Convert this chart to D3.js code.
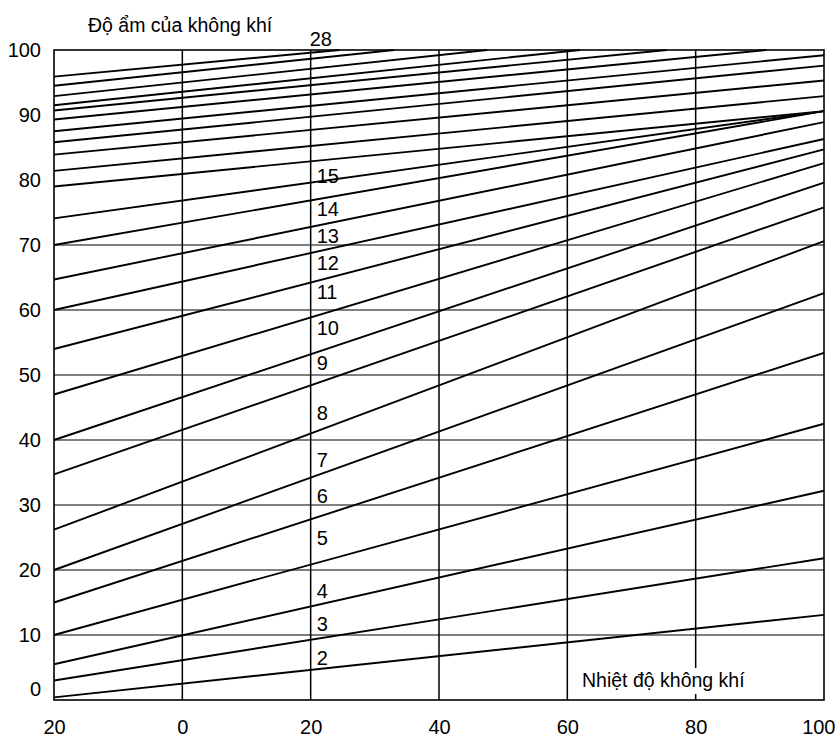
<!DOCTYPE html>
<html>
<head>
<meta charset="utf-8">
<script src="https://cdn.jsdelivr.net/npm/d3@7"></script>
<style>
  body { margin: 0; background: #fff; }
  text { font-family: 'Liberation Sans', Arial, sans-serif; fill: #000; }
</style>
</head>
<body>
<div id="chart"></div>
<script>
// humidity lines, numbered 2..27
const curveIds = [2, 3, 4, 5, 6, 7, 8, 9, 10, 11, 12, 13, 14, 15, 16, 17, 18, 19, 20, 21, 22, 23, 24, 25, 26, 27];
// humidity where each line starts (temperature -20)
const startHumidity = [0.4, 3.0, 5.5, 10, 15, 20, 26.2, 34.7, 40, 47, 54, 60, 64.7, 70, 74.1, 79.0, 81.4, 83.9, 85.8, 87.5, 89.3, 90.7, 91.5, 92.9, 94.5, 95.9];
// where each line ends: right edge (100) or where it meets the 100% border
const endTemp = [100, 100, 100, 100, 100, 100, 100, 100, 100, 100, 100, 100, 100, 100, 100, 100, 100, 100, 100, 100, 91, 75.5, 62, 47.5, 33, 24.5];
const endHumidity = [13.1, 21.8, 32.2, 42.5, 53.4, 62.6, 70.6, 75.8, 79.6, 82.6, 84.7, 86.3, 88.9, 90.6, 90.6, 90.6, 92.9, 95.3, 97.6, 99.2, 100, 100, 100, 100, 100, 100];

const xTicks = [-20, 0, 20, 40, 60, 80, 100];
const xTickLabels = ['20', '0', '20', '40', '60', '80', '100'];
const yTicks = [0, 10, 20, 30, 40, 50, 60, 70, 80, 90, 100];
const yGridValues = [10, 20, 30, 40, 50, 60, 70];

// numbers written next to the lines at temperature 20
const curveLabels = ['2', '3', '4', '5', '6', '7', '8', '9', '10', '11', '12', '13', '14', '15'];
const curveLabelHumidity = [6.4, 11.7, 16.8, 24.9, 31.4, 37.0, 44.2, 51.8, 57.2, 62.7, 67.2, 71.4, 75.5, 80.6];
const topLabel = '28';

const yTitle = 'Độ ẩm của không khí';
const xTitle = 'Nhiệt độ không khí';

const width = 836;
const height = 738;

const x = d3.scaleLinear().domain([-20, 100]).range([54, 824]);
const y = d3.scaleLinear().domain([0, 100]).range([700, 50]);

const svg = d3
  .select('#chart')
  .append('svg')
  .attr('width', width)
  .attr('height', height);

// grid
svg
  .append('g')
  .selectAll('line')
  .data(yGridValues)
  .enter()
  .append('line')
  .attr('x1', x(-20))
  .attr('x2', x(100))
  .attr('y1', (d) => y(d))
  .attr('y2', (d) => y(d))
  .attr('stroke', '#000')
  .attr('stroke-width', 1.2);

svg
  .append('g')
  .selectAll('line')
  .data(xTicks.slice(1, -1))
  .enter()
  .append('line')
  .attr('x1', (d) => x(d))
  .attr('x2', (d) => x(d))
  .attr('y1', y(0))
  .attr('y2', y(100))
  .attr('stroke', '#000')
  .attr('stroke-width', 1.5);

// frame
svg
  .append('rect')
  .attr('x', x(-20))
  .attr('y', y(100))
  .attr('width', x(100) - x(-20))
  .attr('height', y(0) - y(100))
  .attr('fill', 'none')
  .attr('stroke', '#000')
  .attr('stroke-width', 1.6);

// humidity lines
const curves = curveIds.map((id, i) => ({
  id: id,
  pts: [[-20, startHumidity[i]], [endTemp[i], endHumidity[i]]]
}));

const line = d3
  .line()
  .x((d) => x(d[0]))
  .y((d) => y(d[1]));

svg
  .append('g')
  .selectAll('path')
  .data(curves)
  .enter()
  .append('path')
  .attr('d', (d) => line(d.pts))
  .attr('fill', 'none')
  .attr('stroke', '#000')
  .attr('stroke-width', 1.9);

// axis labels
const xAxis = d3
  .axisBottom(x)
  .tickValues(xTicks)
  .tickSize(0)
  .tickPadding(20)
  .tickFormat((d, i) => xTickLabels[i]);

svg
  .append('g')
  .attr('transform', `translate(0, ${y(0)})`)
  .call(xAxis)
  .call((g) => g.select('.domain').remove())
  .selectAll('text')
  .attr('font-size', 20)
  .attr('font-family', "'Liberation Sans', Arial, sans-serif")
  .attr('fill', '#000')
  .attr('text-anchor', (d) => (d === 100 ? 'end' : 'middle'))
  .attr('dx', (d) => (d === 100 ? 11 : 0));

const yAxis = d3.axisLeft(y).tickValues(yTicks).tickSize(0).tickPadding(13);

svg
  .append('g')
  .attr('transform', `translate(${x(-20)}, 0)`)
  .call(yAxis)
  .call((g) => g.select('.domain').remove())
  .selectAll('text')
  .attr('font-size', 20)
  .attr('font-family', "'Liberation Sans', Arial, sans-serif")
  .attr('fill', '#000')
  .attr('dy', (d) => (d === 0 ? '-0.25em' : '0.32em'));

// line numbers
svg
  .append('g')
  .selectAll('text')
  .data(curveLabels)
  .enter()
  .append('text')
  .attr('x', x(20) + 6)
  .attr('y', (d, i) => y(curveLabelHumidity[i]))
  .attr('dy', '0.35em')
  .attr('font-size', 20)
  .text((d) => d);

svg
  .append('text')
  .attr('x', x(20) - 1)
  .attr('y', y(100) - 4)
  .attr('font-size', 20)
  .text(topLabel);

// titles
svg
  .append('text')
  .attr('x', 88)
  .attr('y', 32)
  .attr('font-size', 19.5)
  .text(yTitle);

const xTitleBg = svg.append('rect').attr('fill', '#fff');

const xt = svg
  .append('text')
  .attr('x', 582)
  .attr('y', 687)
  .attr('font-size', 19.5)
  .text(xTitle);

const bb = xt.node().getBBox();
xTitleBg
  .attr('x', bb.x - 3)
  .attr('y', bb.y - 1)
  .attr('width', bb.width + 6)
  .attr('height', bb.height + 4);
</script>
</body>
</html>
